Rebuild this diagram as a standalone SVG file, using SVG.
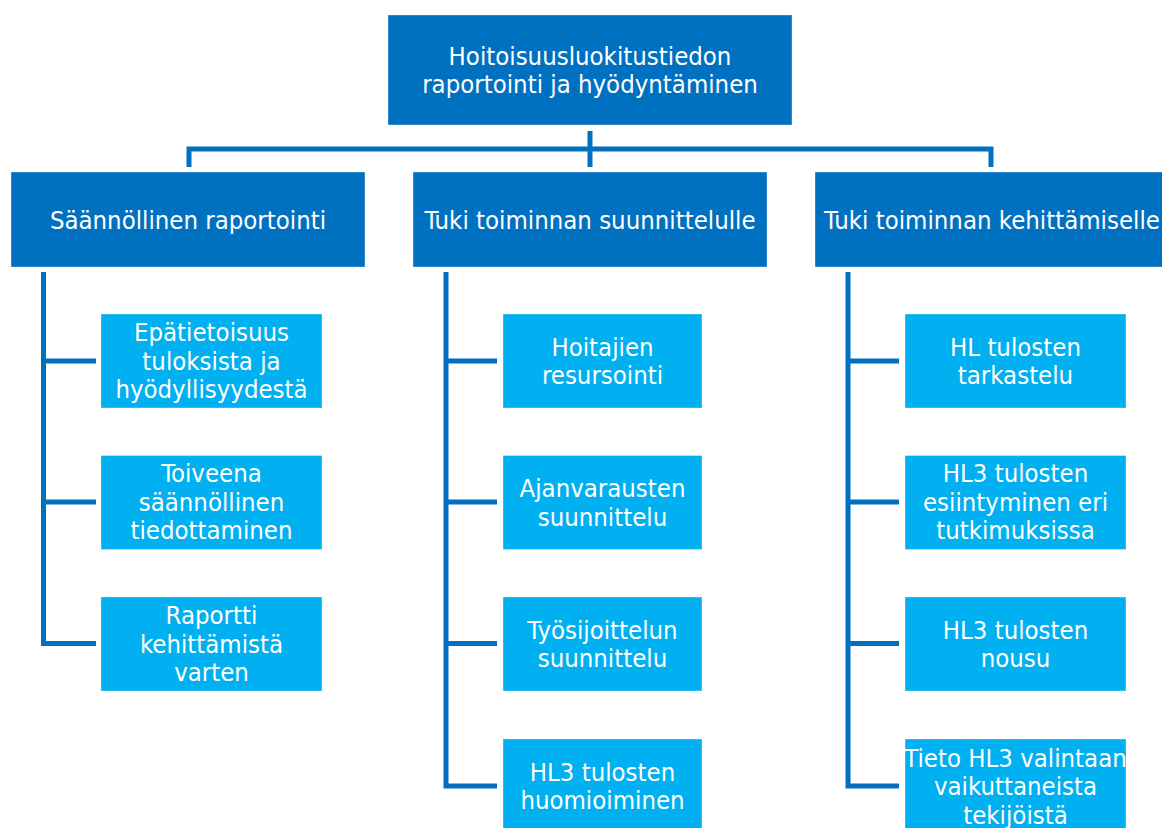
<svg xmlns="http://www.w3.org/2000/svg" width="1162" height="828" viewBox="0 0 1162 828">
  <style>
    .root { fill: #0070C0; }
    .cat { fill: #0070C0; }
    .item { fill: #00B0F0; }
    .box { stroke: #ffffff; stroke-opacity: 0.35; stroke-width: 1; }
    .lbl { font-family: "DejaVu Sans Condensed", "DejaVu Sans", Verdana, sans-serif; font-stretch: condensed; font-size: 25.5px; fill: #ffffff; text-anchor: middle; }
    .wire { fill: none; stroke: #0070C0; stroke-width: 5; stroke-linejoin: miter; stroke-linecap: butt; }
  </style>
  <rect width="1162" height="828" fill="#ffffff"/>

  <!-- connectors -->
  <g id="connectors">
    <path class="wire" d="M590,131 V167"/>
    <path class="wire" d="M189,167 V149 H991 V167"/>
    <!-- column 1 branch -->
    <path class="wire" d="M43.5,272 V643.5 H96"/>
    <path class="wire" d="M43.5,361 H96"/>
    <path class="wire" d="M43.5,502 H96"/>
    <!-- column 2 branch -->
    <path class="wire" d="M446,272 V786 H497"/>
    <path class="wire" d="M446,361 H497"/>
    <path class="wire" d="M446,502 H497"/>
    <path class="wire" d="M446,643.5 H497"/>
    <!-- column 3 branch -->
    <path class="wire" d="M848,272 V786 H899"/>
    <path class="wire" d="M848,361 H899"/>
    <path class="wire" d="M848,502 H899"/>
    <path class="wire" d="M848,643.5 H899"/>
  </g>

  <!-- root -->
  <g id="root">
    <rect class="root box" x="388" y="15" width="404" height="110"/>
    <text class="lbl" x="590" y="64.5">Hoitoisuusluokitustiedon</text>
    <text class="lbl" x="590" y="93">raportointi ja hyödyntäminen</text>
  </g>

  <!-- categories -->
  <g id="cat-raportointi">
    <rect class="cat box" x="11" y="172" width="354" height="95"/>
    <text class="lbl" x="188" y="229">Säännöllinen raportointi</text>
  </g>
  <g id="cat-suunnittelu">
    <rect class="cat box" x="413" y="172" width="354" height="95"/>
    <text class="lbl" x="590" y="229">Tuki toiminnan suunnittelulle</text>
  </g>
  <g id="cat-kehittaminen">
    <rect class="cat box" x="815" y="172" width="354" height="95"/>
    <text class="lbl" x="992" y="229">Tuki toiminnan kehittämiselle</text>
  </g>

  <!-- column 1 items -->
  <g id="item-1-1">
    <rect class="item box" x="101" y="314" width="221" height="94"/>
    <text class="lbl" x="211.5" y="341">Epätietoisuus</text>
    <text class="lbl" x="211.5" y="369.5">tuloksista ja</text>
    <text class="lbl" x="211.5" y="398">hyödyllisyydestä</text>
  </g>
  <g id="item-1-2">
    <rect class="item box" x="101" y="455.5" width="221" height="94"/>
    <text class="lbl" x="211.5" y="482">Toiveena</text>
    <text class="lbl" x="211.5" y="510.5">säännöllinen</text>
    <text class="lbl" x="211.5" y="539">tiedottaminen</text>
  </g>
  <g id="item-1-3">
    <rect class="item box" x="101" y="597" width="221" height="94"/>
    <text class="lbl" x="211.5" y="624">Raportti</text>
    <text class="lbl" x="211.5" y="652.5">kehittämistä</text>
    <text class="lbl" x="211.5" y="681">varten</text>
  </g>

  <!-- column 2 items -->
  <g id="item-2-1">
    <rect class="item box" x="503" y="314" width="199" height="94"/>
    <text class="lbl" x="602.5" y="355.5">Hoitajien</text>
    <text class="lbl" x="602.5" y="384">resursointi</text>
  </g>
  <g id="item-2-2">
    <rect class="item box" x="503" y="455.5" width="199" height="94"/>
    <text class="lbl" x="602.5" y="497">Ajanvarausten</text>
    <text class="lbl" x="602.5" y="525.5">suunnittelu</text>
  </g>
  <g id="item-2-3">
    <rect class="item box" x="503" y="597" width="199" height="94"/>
    <text class="lbl" x="602.5" y="638.5">Työsijoittelun</text>
    <text class="lbl" x="602.5" y="667">suunnittelu</text>
  </g>
  <g id="item-2-4">
    <rect class="item box" x="503" y="739" width="199" height="94"/>
    <text class="lbl" x="602.5" y="780.5">HL3 tulosten</text>
    <text class="lbl" x="602.5" y="809">huomioiminen</text>
  </g>

  <!-- column 3 items -->
  <g id="item-3-1">
    <rect class="item box" x="905" y="314" width="221" height="94"/>
    <text class="lbl" x="1015.5" y="355.5">HL tulosten</text>
    <text class="lbl" x="1015.5" y="384">tarkastelu</text>
  </g>
  <g id="item-3-2">
    <rect class="item box" x="905" y="455.5" width="221" height="94"/>
    <text class="lbl" x="1015.5" y="482">HL3 tulosten</text>
    <text class="lbl" x="1015.5" y="510.5">esiintyminen eri</text>
    <text class="lbl" x="1015.5" y="539">tutkimuksissa</text>
  </g>
  <g id="item-3-3">
    <rect class="item box" x="905" y="597" width="221" height="94"/>
    <text class="lbl" x="1015.5" y="638.5">HL3 tulosten</text>
    <text class="lbl" x="1015.5" y="667">nousu</text>
  </g>
  <g id="item-3-4">
    <rect class="item box" x="905" y="739" width="221" height="94"/>
    <text class="lbl" x="1015.5" y="766.5">Tieto HL3 valintaan</text>
    <text class="lbl" x="1015.5" y="795">vaikuttaneista</text>
    <text class="lbl" x="1015.5" y="823.5">tekijöistä</text>
  </g>
</svg>
